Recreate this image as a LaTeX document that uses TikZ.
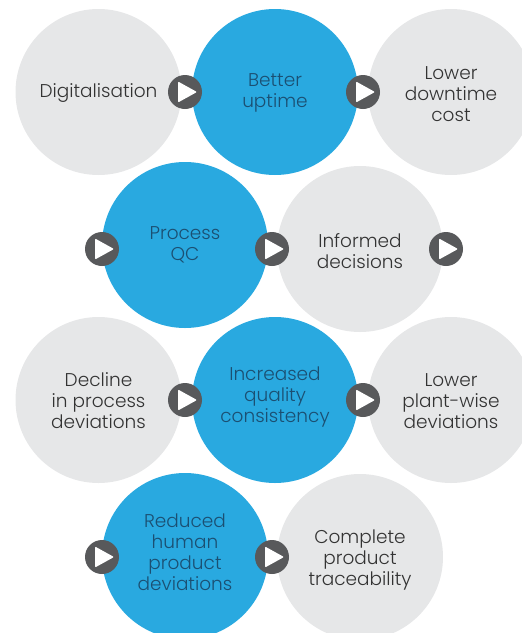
\documentclass[tikz,border=0pt]{standalone}
\usepackage{fontspec}
\setmainfont{Poppins Light}
\definecolor{cgrey}{HTML}{E6E7E8}
\definecolor{cblue}{HTML}{29A9E0}
\definecolor{cgtext}{HTML}{333333}
\definecolor{cbtext}{HTML}{1B4F72}
\definecolor{cbtn}{HTML}{58595B}
\begin{document}
\begin{tikzpicture}[x=1pt,y=-1pt,
  txt/.style={align=center, font=\fontsize{18.5}{21}\selectfont},
  bubble/.style={circle, minimum size=166pt, inner sep=0pt, txt},
  greyb/.style={bubble, fill=cgrey, text=cgtext},
  blueb/.style={bubble, fill=cblue, text=cbtext},
  btn/.style={circle, fill=cbtn, minimum size=34pt, inner sep=0pt,
    path picture={\fill[white, rounded corners=1pt, shift={(path picture bounding box.center)}] (-7,-10.5) -- (-7,10.5) -- (12,0) -- cycle;}},
]
\useasboundingbox (0,0) rectangle (522,633);
\clip (0,0) rectangle (522,633);
% row 1
\node[greyb] (g1) at (98.5,92) {};
\node[txt, text=cgtext] (t1) at (98.5,93) {Digitalisation};
\node[blueb] (b1) at (275,92) {};
\node[txt, text=cbtext] (t2) at (275,93) {Better\\uptime};
\node[greyb] (g2) at (451,92) {};
\node[txt, text=cgtext] (t3) at (451,94) {Lower\\downtime\\cost};
% row 2
\node[blueb] (b2) at (185,245) {};
\node[txt, text=cbtext] (t4) at (185,245) {Process\\QC};
\node[greyb] (g3) at (360,249) {};
\node[txt, text=cgtext] (t5) at (360,251) {Informed\\decisions};
% row 3
\node[greyb] (g4) at (98.5,400) {};
\node[txt, text=cgtext] (t6) at (98.5,401) {Decline\\in process\\deviations};
\node[blueb] (b3) at (275,400) {};
\node[txt, text=cbtext] (t7) at (275,397) {Increased\\quality\\consistency};
\node[greyb] (g5) at (451,400) {};
\node[txt, text=cgtext] (t8) at (451,401) {Lower\\plant-wise\\deviations};
% row 4
\node[blueb] (b4) at (185,556) {};
\node[txt, text=cbtext] (t9) at (185,552.5) {Reduced\\human\\product\\deviations};
\node[greyb] (g6) at (360,557) {};
\node[txt, text=cgtext] (t10) at (360,560) {Complete\\product\\traceability};
% buttons
\node[btn] (a1) at (185,92) {};
\node[btn] (a2) at (363,92) {};
\node[btn] (a3) at (102,249) {};
\node[btn] (a4) at (272,249) {};
\node[btn] (a5) at (446,249) {};
\node[btn] (a6) at (185,400) {};
\node[btn] (a7) at (363,400) {};
\node[btn] (a8) at (102,557) {};
\node[btn] (a9) at (272,557) {};
\end{tikzpicture}
\end{document}
